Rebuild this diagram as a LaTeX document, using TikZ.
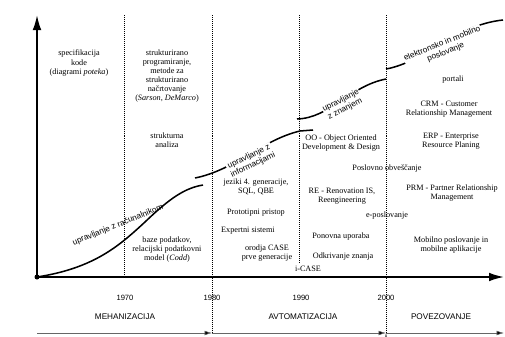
\documentclass[tikz,border=0pt]{standalone}
\usepackage{fontspec}
\setmainfont{Liberation Serif}
\setsansfont{Liberation Sans}
\usetikzlibrary{arrows.meta,positioning}

\begin{document}
\begin{tikzpicture}[x=0.03cm,y=-0.03cm,>={Latex[length=0.45cm,width=0.26cm]}]
        \tikzset{txt/.style={align=center,inner sep=0pt,font=\fontsize{7}{7.7}\selectfont},
        year/.style={inner sep=0pt,font=\sffamily\fontsize{6.5}{8}\selectfont},
        phase/.style={inner sep=0pt,font=\sffamily\fontsize{7}{8}\selectfont},
        trend/.style={line width=1.3pt},
        tlabel/.style={align=center,inner sep=0.6pt,fill=white,font=\sffamily\fontsize{7}{8}\selectfont},
        axis/.style={line width=1.5pt,->},
        border/.style={densely dotted,line width=0.7pt},
        span/.style={draw=black!60,line width=0.5pt,-{Latex[length=0.22cm,width=0.14cm]}}
        }
        \useasboundingbox (0,0) rectangle (505,336);

        \coordinate (origin) at (37,277);
        \coordinate (ytop) at (37,15);
        \coordinate (xend) at (504,277);
        \coordinate (s0) at (37,333);
        \coordinate (s1) at (212,333);
        \coordinate (s2) at (386,333);
        \coordinate (s3) at (504,333);

%% decade borders
        \draw[border] (124,15) -- (124,277);
        \draw[border] (212,15) -- (s1);
        \draw[border] (299,15) -- (299,262);
        \draw[border] (386,15) -- (s2);

%% trends
        \draw[trend] (origin) .. controls (95,268) and (120,245) .. (145,222)
                     .. controls (170,198) and (185,188) .. (203,185);
        \draw[trend] (195,178) .. controls (235,170) and (262,140) .. (300,131) -- (313,130);
        \draw[trend] (297,119) .. controls (330,118) and (350,86) .. (386,79);
        \draw[trend] (386,69) .. controls (425,62) and (455,25) .. (503,20);

        \node [tlabel, fill=none, rotate=22] (lab_rac) at (118,225) {upravljanje z računalnikom};
        \node [tlabel, rotate=26] (lab_inf) at (251,161) {upravljanje z\\informacijami};
        \node [tlabel, rotate=27] (lab_zn) at (343,105) {upravljanje\\z znanjem};
        \node [tlabel, rotate=22] (lab_el) at (444,48) {elektronsko in mobilno\\poslovanje};

%% axes
        \draw[axis] (origin) -- (ytop);
        \draw[axis] (origin) -- (xend);
        \fill (origin) circle (2.5);

%% 1960-1970
        \node [txt] (spec) at (79,63) {specifikacija\\kode\\(diagrami \textit{poteka})};
%% 1970-1980
        \node [txt] (strprog) at (167,76) {strukturirano\\programiranje,\\metode za\\strukturirano\\načrtovanje\\(\textit{Sarson}, \textit{DeMarco})};
        \node [txt] (stranal) at (167,140) {strukturna\\analiza};
        \node [txt] (baze) at (167,250) {baze podatkov,\\relacijski podatkovni\\model (\textit{Codd})};
%% 1980-1990
        \node [txt] (jeziki) at (256,187) {jeziki 4. generacije,\\SQL, QBE};
        \node [txt] (proto) at (256,213) {Prototipni pristop};
        \node [txt] (expert) at (248,231) {Expertni sistemi};
        \node [txt] (orodja) at (267,253) {orodja CASE\\prve generacije};
        \node [txt] (icase) at (308,269) {i-CASE};
%% 1990-2000
        \node [txt] (oo) at (341,143) {OO - Object Oriented\\Development \& Design};
        \node [txt] (poslovno) at (387,169) {Poslovno obveščanje};
        \node [txt] (re) at (342,196) {RE - Renovation IS,\\Reengineering};
        \node [txt] (epos) at (387,216) {e-poslovanje};
        \node [txt] (ponovna) at (341,237) {Ponovna uporaba};
        \node [txt] (odkriv) at (343,257) {Odkrivanje znanja};
%% 2000-
        \node [txt] (portali) at (453,80) {portali};
        \node [txt] (crm) at (449,109) {CRM - Customer\\Relationship Management};
        \node [txt] (erp) at (451,141) {ERP - Enterprise\\Resource Planing};
        \node [txt] (prm) at (452,193) {PRM - Partner Relationship\\Management};
        \node [txt] (mobilno) at (451,245) {Mobilno poslovanje in\\mobilne aplikacije};

%% time line
        \node [year] (y1970) at (125,298) {1970};
        \node [year] (y1980) at (212,298) {1980};
        \node [year] (y1990) at (301,298) {1990};
        \node [year] (y2000) at (386,298) {2000};
        \node [phase] (mehan) at (125,317) {MEHANIZACIJA};
        \node [phase] (avtom) at (303,317) {AVTOMATIZACIJA};
        \node [phase] (povez) at (441,317) {POVEZOVANJE};

        \path[span] (s0) edge (s1)
                    (s1) edge (s2)
                    (s2) edge (s3);
\end{tikzpicture}
\end{document}
